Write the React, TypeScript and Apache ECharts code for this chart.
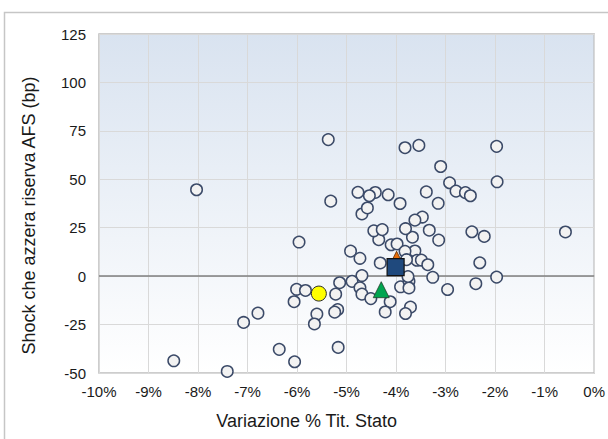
import React, { useEffect, useRef } from "react";
import * as echarts from "echarts";

// Variazione % Tit. Stato (x) vs Shock che azzera riserva AFS (bp) (y)
const bankX: number[] = [
  -8.03, -5.37, -5.96, -5.32, -8.49, -7.41, -7.08, -6.79, -6.36, -6.05,
  -6.06, -6.01, -5.83, -5.6, -5.65, -5.22, -5.18, -5.24, -5.17, -5.14,
  -4.92, -4.73, -4.32, -4.69, -4.89, -4.73, -4.69, -4.51, -4.12, -4.22,
  -3.91, -3.74, -3.74, -3.71, -3.81, -3.76, -3.26, -2.96, -2.39, -1.97,
  -2.31, -0.58, -2.47, -2.22, -3.14, -3.33, -3.47, -3.62, -3.67, -3.81,
  -3.62, -3.58, -3.49, -3.36, -4.1, -3.98, -4.35, -4.45, -4.28, -4.69,
  -4.58, -3.92, -3.15, -3.82, -3.54, -1.97, -3.1, -1.96, -2.92, -2.79,
  -2.6, -2.5, -3.39, -4.16, -4.42, -4.54, -4.77, -3.82, -3.79,
];
const bankY: number[] = [
  44.6, 70.5, 17.6, 38.7, -43.7, -49.2, -23.9, -19.1, -37.8, -44.2,
  -13.2, -6.8, -7.4, -19.6, -24.7, -9.3, -17.3, -18.6, -36.8, -3.4,
  12.9, 9.2, 6.8, 0.3, -2.7, -6.0, -9.3, -11.6, -13.2, -18.5,
  -5.5, -2.7, -6.1, -16.0, -19.3, -0.2, -0.6, -6.9, -3.9, -0.5,
  6.9, 22.8, 22.9, 20.5, 18.6, 23.7, 30.5, 28.9, 20.1, 24.5,
  13.0, 8.2, 8.3, 5.9, 16.2, 16.6, 18.8, 23.4, 24.0, 32.1,
  35.2, 37.5, 37.6, 66.3, 67.5, 67.0, 56.6, 48.7, 48.2, 43.9,
  43.1, 41.5, 43.5, 42.0, 43.2, 41.5, 43.3, 12.8, 8.5,
];

const yellowPoint: [number, number] = [-5.56, -9.0];
const greenPoint: [number, number] = [-4.3, -7.0];
const orangePoint: [number, number] = [-3.99, 9.0];
const bluePoint: [number, number] = [-4.01, 4.7];

const xTicks = { min: -10, max: 0, interval: 1 };
const yTicks = { min: -50, max: 125, interval: 25 };

const FONT = "'Liberation Sans', Arial, sans-serif";

export default function App() {
  const ref = useRef<HTMLDivElement>(null);
  useEffect(() => {
    if (!ref.current) return;
    const chart = echarts.init(ref.current, undefined, { renderer: "svg" });
    const circleData = bankX.map((x, i) => [x, bankY[i]]);
    chart.setOption({
      animation: false,
      backgroundColor: "#ffffff",
      textStyle: { fontFamily: FONT },
      graphic: [
        {
          type: "rect",
          shape: { x: 4.5, y: 12.5, width: 700, height: 500 },
          style: { fill: "none", stroke: "#c6c6c6", lineWidth: 1.5 },
          z: -10,
        },
      ],
      grid: {
        left: 99,
        top: 34,
        right: 12,
        bottom: 66,
        show: true,
        backgroundColor: new echarts.graphic.LinearGradient(0, 0, 0, 1, [
          { offset: 0, color: "#d9e3f0" },
          { offset: 1, color: "#ffffff" },
        ]),
        borderColor: "#bdbdbd",
        borderWidth: 1.5,
      },
      xAxis: {
        type: "value",
        min: xTicks.min,
        max: xTicks.max,
        interval: xTicks.interval,
        name: "Variazione % Tit. Stato",
        nameLocation: "middle",
        nameGap: 39,
        nameTextStyle: {
          fontSize: 18,
          color: "#1a1a1a",
          fontFamily: FONT,
          padding: [0, 80, 0, 0],
        },
        axisLine: { show: false },
        axisTick: { show: false },
        axisLabel: {
          fontSize: 15,
          color: "#1a1a1a",
          margin: 11,
          formatter: (v: number) => `${v}%`,
          fontFamily: FONT,
        },
        splitLine: { show: true, lineStyle: { color: "#d9d9d9", width: 1 } },
      },
      yAxis: {
        type: "value",
        min: yTicks.min,
        max: yTicks.max,
        interval: yTicks.interval,
        name: "Shock che azzera riserva AFS (bp)",
        nameLocation: "middle",
        nameRotate: 90,
        nameGap: 61,
        nameTextStyle: {
          fontSize: 18,
          color: "#1a1a1a",
          fontFamily: FONT,
          padding: [0, 24, 0, 0],
        },
        axisLine: { show: false },
        axisTick: { show: false },
        axisLabel: { fontSize: 15, color: "#1a1a1a", margin: 13, fontFamily: FONT },
        splitLine: { show: true, lineStyle: { color: "#d9d9d9", width: 1 } },
      },
      series: [
        {
          type: "scatter",
          data: circleData,
          symbol: "circle",
          symbolSize: 11.5,
          itemStyle: { color: "#f2f2f2", borderColor: "#3b4a68", borderWidth: 1.5, opacity: 1 },
          markLine: {
            silent: true,
            symbol: "none",
            label: { show: false },
            lineStyle: { color: "#7f7f7f", width: 1.5, type: "solid" },
            data: [{ yAxis: 0 }],
            z: 1,
          },
          z: 3,
        },
        {
          type: "scatter",
          data: [yellowPoint],
          symbol: "circle",
          symbolSize: 15,
          itemStyle: { color: "#ffff00", borderColor: "#2b2b2b", borderWidth: 1, opacity: 1 },
          z: 4,
        },
        {
          type: "scatter",
          data: [greenPoint],
          symbol: "triangle",
          symbolSize: 16,
          itemStyle: { color: "#00a550", borderColor: "#1f3f2a", borderWidth: 0.8, opacity: 1 },
          z: 4,
        },
        {
          type: "scatter",
          data: [orangePoint],
          symbol: "triangle",
          symbolSize: 15,
          itemStyle: { color: "#e46c0a", borderColor: "#5a2a00", borderWidth: 0.8, opacity: 1 },
          z: 4,
        },
        {
          type: "scatter",
          data: [bluePoint],
          symbol: "rect",
          symbolSize: 17,
          itemStyle: { color: "#1f497d", borderColor: "#111111", borderWidth: 1.2, opacity: 1 },
          z: 5,
        },
      ],
    });
    return () => chart.dispose();
  }, []);
  return (
    <div
      ref={ref}
      style={{ position: "absolute", left: 0, top: 0, width: 608, height: 439 }}
    />
  );
}
